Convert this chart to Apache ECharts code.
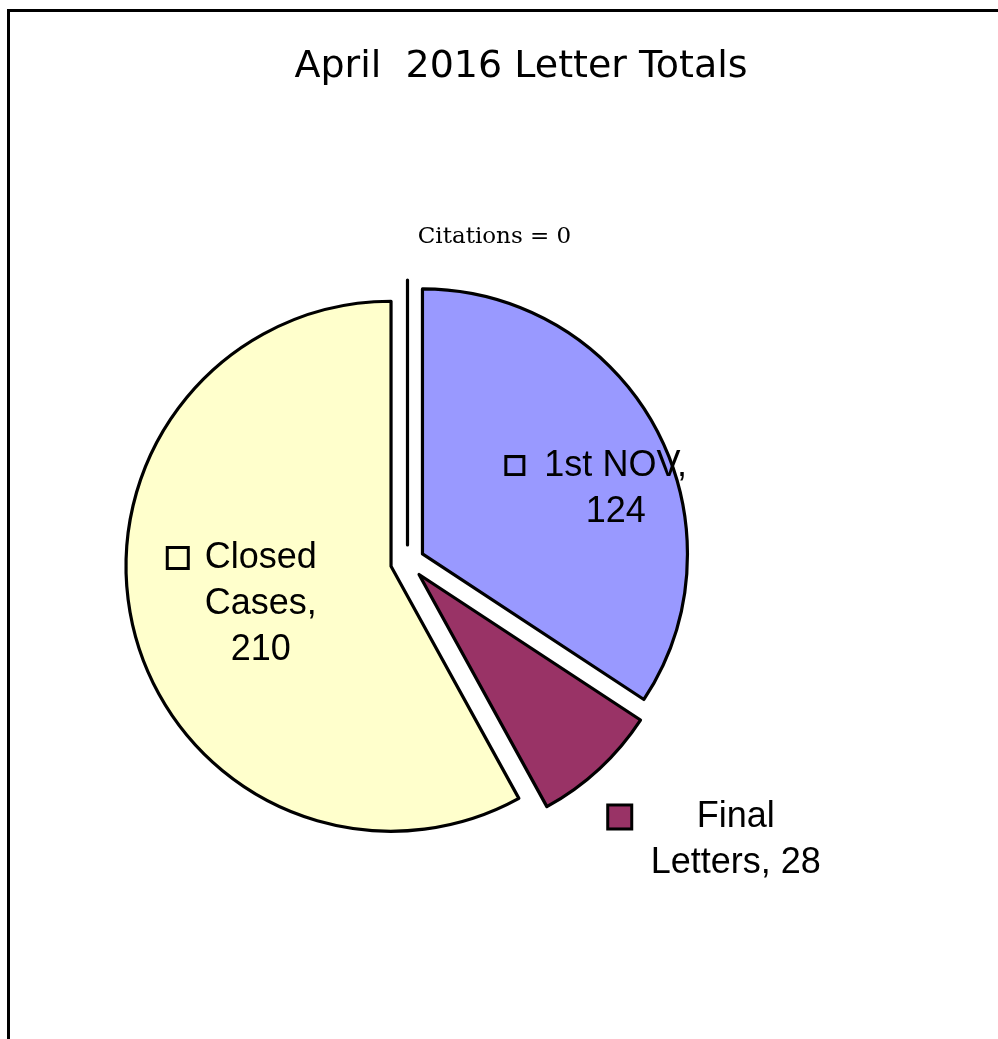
<!DOCTYPE html>
<html><head><meta charset="utf-8">
<script src="https://cdn.jsdelivr.net/npm/echarts@6/dist/echarts.min.js"></script>
<style>html,body{margin:0;padding:0;background:#fff}#c{width:998px;height:1039px}</style>
</head><body><div id="c"></div>
<script>
// ---- data ----
const titleText = 'April  2016 Letter Totals';
const categories = ['1st NOV', 'Final Letters', 'Closed Cases', 'Citations'];
const values = [124, 28, 210, 0];
// how each name is wrapped in its label, and whether the value gets its own line
const nameLines = [['1st NOV'], ['Final', 'Letters'], ['Closed', 'Cases'], ['Citations']];
const valueOwnLine = [true, false, true, false];
// ---- style ----
const colors = ['#9999FF', '#993366', '#FFFFCC', '#FFFFFF'];
const keySize = [15, 21, 18, 0];
const keyGap = [22, 20.5, 18, 0];
const labelShift = [[55.5, -1], [204, 166], [-17, 4], [87, -172]];

const chart = echarts.init(document.getElementById('c'), null, {renderer: 'canvas'});

const rich = {
  t: {fontFamily: 'Liberation Sans', fontSize: 36, lineHeight: 46, color: '#000', align: 'center'},
  c: {fontFamily: 'DejaVu Serif', fontSize: 23, color: '#000'}
};
colors.forEach((col, i) => {
  rich['k' + i] = {width: keySize[i], height: keySize[i], backgroundColor: col, borderColor: '#000', borderWidth: 3, align: 'left'};
  rich['g' + i] = {width: keyGap[i], align: 'left'};
  rich['s' + i] = {width: keySize[i] + keyGap[i], align: 'left'};
});

function fmt(p) {
  const i = p.dataIndex;
  if (p.value === 0) return '{c|' + p.name + ' = ' + p.value + '}';
  const parts = nameLines[i].slice();
  parts[parts.length - 1] += ',';
  if (valueOwnLine[i]) parts.push(String(p.value));
  else parts[parts.length - 1] += ' ' + p.value;
  return parts.map((s, j) => (j === 0 ? '{k' + i + '|}{g' + i + '|}' : '{s' + i + '|}') + '{t|' + s + '}').join('\n');
}

chart.setOption({
  backgroundColor: '#fff',
  animation: false,
  graphic: [
    {type: 'rect', shape: {x: 8.5, y: 10.5, width: 1400, height: 1400},
     style: {fill: 'none', stroke: '#000', lineWidth: 3}, silent: true},
    {type: 'text', x: 521, y: 67,
     style: {text: titleText, font: '38px "DejaVu Sans"', fill: '#000', textAlign: 'center', textVerticalAlign: 'middle'}}
  ],
  series: [{
    type: 'pie',
    center: [407.5, 562],
    radius: 265,
    startAngle: 90,
    clockwise: true,
    selectedMode: 'multiple',
    selectedOffset: 17,
    avoidLabelOverlap: false,
    silent: true,
    itemStyle: {borderColor: '#000', borderWidth: 3.2},
    emphasis: {disabled: true},
    select: {itemStyle: {borderColor: '#000', borderWidth: 3.2}},
    label: {show: true, position: 'inside', color: '#000', formatter: fmt, rich: rich},
    labelLine: {show: false},
    labelLayout: p => ({dx: labelShift[p.dataIndex][0], dy: labelShift[p.dataIndex][1]}),
    data: categories.map((n, i) => ({name: n, value: values[i], selected: true, itemStyle: {color: colors[i]}}))
  }]
});
</script></body></html>
